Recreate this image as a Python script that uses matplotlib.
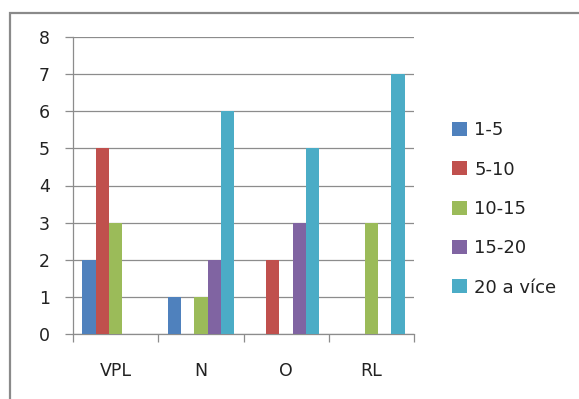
import numpy as np
import matplotlib
matplotlib.use("Agg")
import matplotlib.pyplot as plt
from matplotlib.patches import Rectangle

plt.rcParams["font.family"] = ["DejaVu Sans"]

# -----------------------------
# Data
# -----------------------------
categories = ["VPL", "N", "O", "RL"]
series_names = ["1-5", "5-10", "10-15", "15-20", "20 a více"]
val_1_5 = [2, 1, 0, 0]
val_5_10 = [5, 0, 2, 0]
val_10_15 = [3, 1, 0, 3]
val_15_20 = [0, 2, 3, 0]
val_20_plus = [0, 6, 5, 7]
series_values = [val_1_5, val_5_10, val_10_15, val_15_20, val_20_plus]
colors = ["#4F81BD", "#C0504D", "#9BBB59", "#8064A2", "#4BACC6"]
y_ticks = list(range(0, 9))

W, H = 579, 399
fig = plt.figure(figsize=(W / 100, H / 100), dpi=100)
fig.patch.set_facecolor("white")

# outer chart frame (continues past right and bottom edges)
fig.patches.append(Rectangle((10 / W, -0.2), 1.2, (H - 12.5) / H + 0.2,
                             transform=fig.transFigure, fill=False,
                             edgecolor="#8A8A8A", lw=1.6, zorder=0))

ax = fig.add_axes([73 / W, (H - 334.3) / H, (414 - 73) / W, (334.3 - 36.7) / H])

x = np.arange(len(categories))
bar_w = 0.156
for i, (name, vals, c) in enumerate(zip(series_names, series_values, colors)):
    offs = (i - 2) * bar_w
    ax.bar(x + offs, vals, width=bar_w, color=c, label=name, zorder=3,
           linewidth=0)

ax.set_xlim(-0.5, len(categories) - 0.5)
ax.set_ylim(0, 8)
ax.set_yticks(y_ticks)
ax.yaxis.grid(True, color="#8C8C8C", lw=0.9, zorder=0)
ax.set_axisbelow(True)

# category boundaries as tick marks, labels centred between them
ax.set_xticks(np.arange(-0.5, len(categories)), labels=[])
ax.set_xticks(x, labels=categories, minor=True)
ax.tick_params(axis="x", which="major", direction="out", length=5.5,
               color="#8C8C8C", width=0.9)
ax.tick_params(axis="x", which="minor", length=0, pad=20, labelsize=12.5,
               labelcolor="#222222")
ax.tick_params(axis="y", direction="out", length=5.8, color="#8C8C8C",
               width=0.9, pad=11, labelsize=12.5, labelcolor="#222222")

for s in ["top", "right"]:
    ax.spines[s].set_visible(False)
for s in ["left", "bottom"]:
    ax.spines[s].set_color("#8C8C8C")
    ax.spines[s].set_linewidth(0.9)

leg = ax.legend(loc="center left", bbox_to_anchor=(452 / W, (H - 209) / H),
                bbox_transform=fig.transFigure, frameon=False, fontsize=13,
                handlelength=0.82, handleheight=0.82, handletextpad=0.42,
                labelspacing=1.18, borderpad=0, borderaxespad=0)
for t in leg.get_texts():
    t.set_color("#222222")

fig.savefig("out.png", dpi=100, facecolor="white")
